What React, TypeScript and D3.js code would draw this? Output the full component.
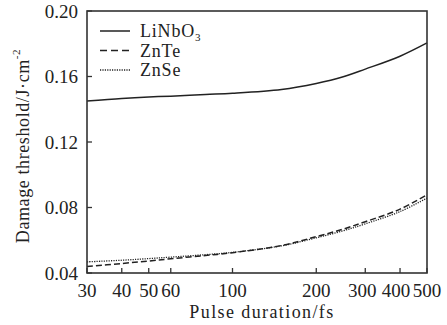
import React from 'react';
import * as d3 from 'd3';

// pulse durations (fs)
const durations = [30, 40, 50, 60, 80, 100, 150, 200, 250, 300, 400, 500];
// damage threshold (J/cm^2)
const linbo3 = [0.145, 0.1466, 0.1475, 0.148, 0.149, 0.1497, 0.152, 0.1557, 0.1598, 0.1645, 0.1724, 0.1805];
const znte = [0.044, 0.0458, 0.0473, 0.0487, 0.0507, 0.0524, 0.0568, 0.0622, 0.0668, 0.0713, 0.0790, 0.0878];
const znse = [0.0468, 0.0478, 0.0488, 0.0497, 0.0512, 0.0526, 0.0566, 0.0615, 0.0658, 0.0700, 0.0775, 0.0858];

const xTicks = [30, 40, 50, 60, 100, 200, 300, 400, 500];
const yTicks = [0.04, 0.08, 0.12, 0.16, 0.2];

const series = [
  { name: 'LiNbO', sub: '3', values: linbo3, dash: 'none', width: 1.5 },
  { name: 'ZnTe', sub: '', values: znte, dash: '6,3', width: 1.5 },
  { name: 'ZnSe', sub: '', values: znse, dash: '1.2,1.2', width: 1.3 },
];

const W = 447;
const H = 325;
const margin = { left: 87, right: 20, top: 11, bottom: 52 };
const font = 'Liberation Serif, Times New Roman, serif';
const ink = '#222';

// crowded labels at the right end are nudged left a little, like the original
const labelShift = (t: number) => (t === 300 ? -3 : t === 400 ? -4 : 0);

const App = () => {
  const x = d3.scaleLog().domain([30, 500]).range([margin.left, W - margin.right]);
  const y = d3.scaleLinear().domain([0.04, 0.2]).range([H - margin.bottom, margin.top]);

  const line = d3
    .line<number>()
    .x((_, i) => x(durations[i]))
    .y((d) => y(d))
    .curve(d3.curveCatmullRom.alpha(0.5));

  const [x0, x1] = x.range();
  const [y0, y1] = y.range();

  return (
    <svg
      width={W}
      height={H}
      style={{ position: 'absolute', left: 0, top: 0, background: '#fff', fontFamily: font }}
    >
      {/* curves */}
      {series.map((s) => (
        <path
          key={s.name}
          d={line(s.values) || ''}
          fill="none"
          stroke={ink}
          strokeWidth={s.width}
          strokeDasharray={s.dash}
        />
      ))}

      {/* frame */}
      <rect x={x0} y={y1} width={x1 - x0} height={y0 - y1} fill="none" stroke="#333" strokeWidth={1.6} />

      {/* x ticks */}
      {xTicks.map((t) => (
        <g key={t}>
          <line x1={x(t)} x2={x(t)} y1={y0} y2={y0 - 5} stroke="#333" strokeWidth={1.3} />
          <text x={x(t) + labelShift(t)} y={297} textAnchor="middle" fontSize={19} fill={ink}>
            {t}
          </text>
        </g>
      ))}

      {/* y ticks */}
      {yTicks.map((t) => (
        <g key={t}>
          <line x1={x0} x2={x0 + 5} y1={y(t)} y2={y(t)} stroke="#333" strokeWidth={1.3} />
          <text x={78} y={y(t) + 6.5} textAnchor="end" fontSize={19} fill={ink}>
            {t.toFixed(2)}
          </text>
        </g>
      ))}

      {/* axis titles */}
      <text x={(x0 + x1) / 2 + 5} y={318} textAnchor="middle" fontSize={18} letterSpacing={1.4} fill={ink}>
        Pulse duration/fs
      </text>
      <text
        transform={`translate(29,${(y0 + y1) / 2 + 4}) rotate(-90)`}
        textAnchor="middle"
        fontSize={18}
        letterSpacing={0.6}
        fill={ink}
      >
        Damage threshold/J·cm
        <tspan fontSize={11} dy={-9}>-2</tspan>
      </text>

      {/* legend */}
      {series.map((s, i) => {
        const ly = 31 + i * 19.5;
        return (
          <g key={s.name}>
            <line x1={100} x2={130} y1={ly} y2={ly} stroke={ink} strokeWidth={s.width} strokeDasharray={s.dash === '6,3' ? '7,4' : s.dash} />
            <text x={140} y={ly + 6} fontSize={18} letterSpacing={0.8} fill={ink}>
              {s.name}
              {s.sub && (
                <tspan fontSize={11} dy={4}>
                  {s.sub}
                </tspan>
              )}
            </text>
          </g>
        );
      })}
    </svg>
  );
};

export default App;
